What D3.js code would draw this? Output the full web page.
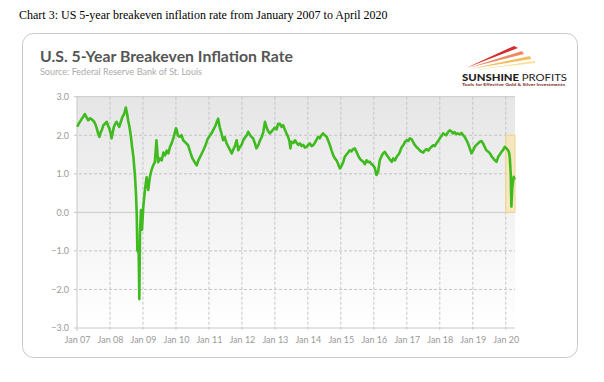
<!DOCTYPE html>
<html><head><meta charset="utf-8">
<script src="https://cdn.jsdelivr.net/npm/d3@7"></script>
<style>body{margin:0;background:#fff}svg{display:block}</style>
</head><body>
<script>
const caption = "Chart 3: US 5-year breakeven inflation rate from January 2007 to April 2020";
const title = "U.S. 5-Year Breakeven Inflation Rate";
const source = "Source: Federal Reserve Bank of St. Louis";
const yTicks = [3, 2, 1, 0, -1, -2, -3];
const xTickYears = [2007,2008,2009,2010,2011,2012,2013,2014,2015,2016,2017,2018,2019,2020];
const xTickLabels = ["Jan 07","Jan 08","Jan 09","Jan 10","Jan 11","Jan 12","Jan 13","Jan 14","Jan 15","Jan 16","Jan 17","Jan 18","Jan 19","Jan 20"];
const highlight = {from: 2020.0, to: 2020.28, low: 0, high: 2};
// decimal years and rate values (%)
const years = [2007.01,2007.05,2007.09,2007.14,2007.19,2007.24,2007.29,2007.34,2007.40,2007.45,2007.52,2007.56,2007.60,2007.64,2007.68,2007.72,2007.76,2007.80,2007.85,2007.90,2007.94,2007.98,
2008.02,2008.05,2008.09,2008.12,2008.16,2008.20,2008.24,2008.28,2008.33,2008.38,2008.43,2008.48,2008.52,2008.55,2008.59,2008.63,2008.67,2008.71,2008.76,2008.79,2008.81,2008.83,2008.87,2008.89,2008.91,2008.94,2008.97,
2009.01,2009.06,2009.11,2009.16,2009.21,2009.26,2009.31,2009.36,2009.41,2009.46,2009.52,2009.57,2009.62,2009.67,2009.72,2009.77,2009.82,2009.87,2009.93,
2010.00,2010.02,2010.06,2010.12,2010.17,2010.22,2010.30,2010.37,2010.44,2010.50,2010.57,2010.63,2010.68,2010.74,2010.83,2010.90,2010.96,
2011.02,2011.08,2011.14,2011.20,2011.24,2011.28,2011.33,2011.38,2011.43,2011.48,2011.53,2011.59,2011.64,2011.69,2011.75,2011.80,2011.84,2011.89,2011.94,2011.99,
2012.04,2012.10,2012.15,2012.19,2012.25,2012.30,2012.34,2012.39,2012.44,2012.50,2012.55,2012.60,2012.65,2012.70,2012.75,2012.80,2012.85,2012.92,
2013.00,2013.05,2013.10,2013.15,2013.20,2013.25,2013.30,2013.35,2013.40,2013.44,2013.47,2013.50,2013.56,2013.61,2013.66,2013.71,2013.76,2013.81,2013.86,2013.91,2013.96,
2014.01,2014.06,2014.11,2014.16,2014.21,2014.26,2014.31,2014.36,2014.41,2014.46,2014.51,2014.57,2014.62,2014.67,2014.72,2014.77,2014.82,2014.87,2014.92,2014.97,
2015.02,2015.07,2015.12,2015.17,2015.22,2015.27,2015.32,2015.37,2015.42,2015.47,2015.52,2015.57,2015.62,2015.68,2015.73,2015.78,2015.83,2015.88,2015.93,2015.98,
2016.03,2016.08,2016.13,2016.18,2016.23,2016.28,2016.33,2016.38,2016.43,2016.48,2016.54,2016.59,2016.64,2016.70,2016.75,2016.79,2016.84,2016.89,2016.94,2016.99,
2017.04,2017.09,2017.14,2017.19,2017.24,2017.29,2017.35,2017.40,2017.45,2017.50,2017.55,2017.60,2017.65,2017.70,2017.75,2017.80,2017.85,2017.90,2017.95,
2018.00,2018.05,2018.10,2018.15,2018.20,2018.25,2018.30,2018.35,2018.40,2018.45,2018.50,2018.55,2018.60,2018.66,2018.71,2018.76,2018.81,2018.86,2018.91,2018.96,
2019.01,2019.06,2019.11,2019.16,2019.21,2019.26,2019.31,2019.36,2019.41,2019.46,2019.52,2019.57,2019.62,2019.67,2019.72,2019.77,2019.82,2019.87,2019.92,2019.97,
2020.02,2020.07,2020.10,2020.12,2020.15,2020.17,2020.20,2020.24,2020.27];
const rate = [2.22,2.30,2.35,2.42,2.48,2.55,2.46,2.39,2.44,2.41,2.35,2.28,2.18,2.05,1.96,2.08,2.15,2.26,2.30,2.35,2.25,2.18,
2.05,1.92,2.10,2.22,2.30,2.35,2.28,2.22,2.35,2.48,2.55,2.72,2.55,2.39,2.22,2.00,1.70,1.44,0.92,0.45,-0.02,-0.98,-1.05,-2.25,-0.53,0.06,-0.45,
0.15,0.58,0.91,0.58,0.92,1.10,1.22,1.30,1.87,1.30,1.40,1.35,1.55,1.48,1.60,1.53,1.70,1.79,1.95,
2.18,2.15,1.99,1.96,2.00,1.87,1.80,1.74,1.55,1.40,1.30,1.22,1.35,1.45,1.61,1.75,1.90,
1.98,2.05,2.15,2.25,2.35,2.43,2.20,2.05,1.87,1.95,1.80,1.70,1.62,1.53,1.65,1.75,1.87,1.61,1.70,1.75,
1.87,1.95,2.00,2.09,2.00,1.95,1.92,1.80,1.66,1.75,1.87,1.95,2.09,2.35,2.20,2.10,2.05,2.12,
2.20,2.15,2.30,2.30,2.22,2.26,2.15,2.05,1.96,1.85,1.66,1.83,1.80,1.87,1.80,1.75,1.79,1.72,1.75,1.68,1.70,
1.75,1.79,1.72,1.74,1.80,1.88,1.96,1.92,2.00,2.05,2.00,1.96,1.85,1.74,1.60,1.48,1.40,1.35,1.25,1.14,
1.20,1.30,1.44,1.50,1.55,1.61,1.58,1.64,1.66,1.58,1.48,1.40,1.35,1.31,1.25,1.35,1.30,1.31,1.25,1.22,
1.15,0.97,1.05,1.35,1.45,1.53,1.57,1.50,1.44,1.38,1.31,1.40,1.35,1.45,1.50,1.57,1.68,1.74,1.82,1.87,
1.85,1.92,1.90,1.83,1.75,1.70,1.65,1.60,1.57,1.55,1.61,1.64,1.60,1.66,1.70,1.74,1.72,1.79,1.85,
1.92,1.98,2.05,2.02,2.00,2.08,2.13,2.10,2.05,2.08,2.03,2.05,2.02,2.06,2.00,1.95,1.87,1.78,1.66,1.53,
1.60,1.70,1.75,1.79,1.83,1.85,1.79,1.70,1.61,1.58,1.53,1.45,1.40,1.35,1.31,1.44,1.50,1.57,1.62,1.70,
1.66,1.61,1.55,1.44,1.01,0.15,0.66,0.92,0.85];

const W = 604, H = 382;
const svg = d3.select("body").append("svg").attr("width", W).attr("height", H);
const defs = svg.append("defs");
const grad = defs.append("linearGradient").attr("id","bg").attr("x1",0).attr("y1",0).attr("x2",0).attr("y2",1);
grad.append("stop").attr("offset","0%").attr("stop-color","#e6e6e6");
grad.append("stop").attr("offset","100%").attr("stop-color","#ffffff");

// caption
svg.append("text").attr("x", 19).attr("y", 19).attr("font-family","Liberation Serif, Times New Roman, serif")
  .attr("font-size", 12).attr("fill","#000").text(caption);

// card
svg.append("rect").attr("x", 22.5).attr("y", 33.5).attr("width", 555).attr("height", 324).attr("rx", 11)
  .attr("fill","#fff").attr("stroke","#c9c9c9").attr("stroke-width",1);

// title & source
svg.append("text").attr("x", 40).attr("y", 61.5).attr("font-family","Lato, sans-serif").attr("font-weight","bold")
  .attr("font-size", 15.5).attr("fill","#555").attr("textLength", 253).attr("lengthAdjust","spacingAndGlyphs").text(title);
svg.append("text").attr("x", 40).attr("y", 75).attr("font-family","Lato, sans-serif")
  .attr("font-size", 8.5).attr("fill","#aaa").attr("textLength", 162).attr("lengthAdjust","spacingAndGlyphs").text(source);

// logo
const logo = svg.append("g");
logo.append("path").attr("d","M466,68 L514,46 L518,48 Z").attr("fill","#d42a2a");
logo.append("path").attr("d","M468,68 L522,51 L524,54 Z").attr("fill","#e86a3a").attr("opacity",0.8);
logo.append("path").attr("d","M470,69 L530,56 L531,59 Z").attr("fill","#f2b040").attr("opacity",0.85);
logo.append("path").attr("d","M474,70 L535,61 L535,63 Z").attr("fill","#f7d878").attr("opacity",0.8);
const lt = logo.append("text").attr("x", 462).attr("y", 80.7).attr("font-family","Lato, sans-serif").attr("font-size", 8.5)
  .attr("fill","#222").attr("textLength", 105).attr("lengthAdjust","spacingAndGlyphs");
lt.append("tspan").attr("font-weight","900").text("SUNSHINE ");
lt.append("tspan").attr("font-weight","normal").text("PROFITS");
logo.append("text").attr("x", 462).attr("y", 86).attr("font-family","Lato, sans-serif").attr("font-size", 4)
  .attr("font-weight","bold").attr("fill","#7a2a2a").attr("textLength", 103).attr("lengthAdjust","spacingAndGlyphs")
  .text("Tools for Effective Gold & Silver Investments");

// scales
const x = d3.scaleLinear().domain([2007, 2020.28]).range([77, 515]);
const y = d3.scaleLinear().domain([-3, 3]).range([328, 96.7]);

// plot background
svg.append("rect").attr("x", x.range()[0]).attr("y", y(3)).attr("width", x.range()[1]-x.range()[0])
  .attr("height", y(-3)-y(3)).attr("fill","url(#bg)");

// gridlines
const g = svg.append("g");
g.selectAll(".hg").data(yTicks).join("line")
  .attr("x1", x.range()[0]-3).attr("x2", x.range()[1]).attr("y1", d=>y(d)).attr("y2", d=>y(d))
  .attr("stroke", d => (d===0||d===3||d===-3) ? "#c8c8c8" : "#c4c4c4")
  .attr("stroke-dasharray", d => (d===0||d===3||d===-3) ? null : "3,2").attr("stroke-width",1);
g.selectAll(".vg").data(xTickYears.slice(1)).join("line")
  .attr("x1", d=>x(d)).attr("x2", d=>x(d)).attr("y1", y(3)).attr("y2", y(-3)+3)
  .attr("stroke","#c4c4c4").attr("stroke-dasharray","3,2");
g.append("line").attr("x1", x(2007)).attr("x2", x(2007)).attr("y1", y(3)).attr("y2", y(-3)+3).attr("stroke","#c8c8c8");

// highlight box
svg.append("rect").attr("x", x(highlight.from)).attr("y", y(highlight.high))
  .attr("width", x(highlight.to)-x(highlight.from)).attr("height", y(highlight.low)-y(highlight.high))
  .attr("fill","#f7e6b0").attr("fill-opacity",0.75).attr("stroke","#f0d48a").attr("stroke-width",1);

// axes labels
const yAxis = d3.axisLeft(y).tickValues(yTicks).tickFormat(d3.format(".1f")).tickSize(0).tickPadding(8);
const ya = svg.append("g").attr("transform", `translate(${x(2007)},0)`).call(yAxis);
ya.select(".domain").remove();
ya.selectAll("text").attr("font-family","Lato, sans-serif").attr("font-size", 9).attr("fill","#999");

const xAxis = d3.axisBottom(x).tickValues(xTickYears).tickFormat((d,i)=>xTickLabels[i]).tickSize(0).tickPadding(9);
const xa = svg.append("g").attr("transform", `translate(0,${y(-3)})`).call(xAxis);
xa.select(".domain").remove();
xa.selectAll("text").attr("font-family","Lato, sans-serif").attr("font-size", 9).attr("fill","#999");

// line
const data = years.map((t,i)=>({t, v: rate[i]}));
svg.append("path").datum(data)
  .attr("d", d3.line().x(d=>x(d.t)).y(d=>y(d.v)))
  .attr("fill","none").attr("stroke","#3fba1f").attr("stroke-width",2.6).attr("stroke-linejoin","round");
</script>
</body></html>
